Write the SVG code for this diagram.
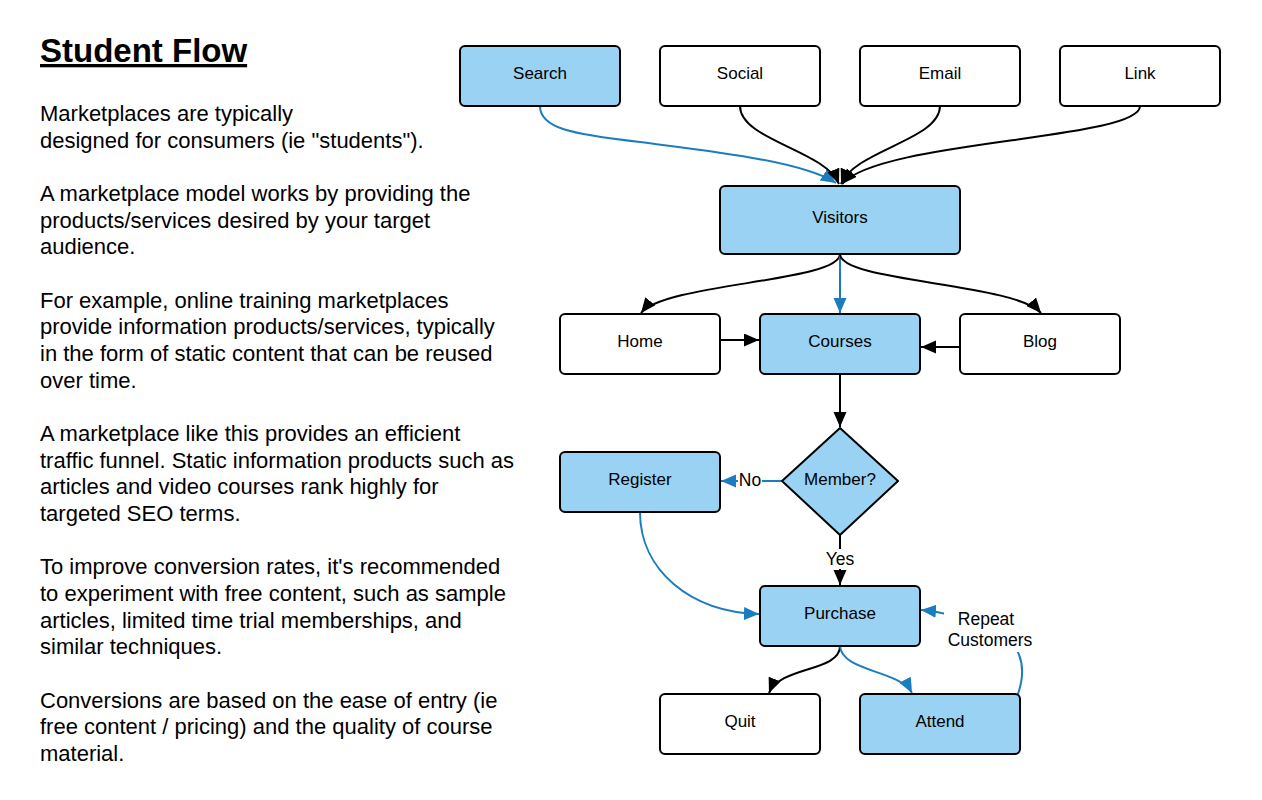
<svg xmlns="http://www.w3.org/2000/svg" width="1262" height="800" viewBox="0 0 1262 800">
<style>
.box{stroke:#000;stroke-width:2;}
.hi{fill:#9ad2f3;}
.lo{fill:#fff;}
.lbl{font-family:"Liberation Sans",Arial,sans-serif;font-size:17px;fill:#000;text-anchor:middle;}
.body{font-family:"Liberation Sans",Arial,sans-serif;font-size:22px;fill:#000;}
.k{fill:none;stroke:#000;stroke-width:2;marker-end:url(#ak);}
.b{fill:none;stroke:#1a7dc0;stroke-width:2;marker-end:url(#ab);}
.el{font-family:"Liberation Sans",Arial,sans-serif;font-size:17.5px;fill:#000;text-anchor:middle;}
</style>
<defs>
<marker id="ak" markerUnits="userSpaceOnUse" markerWidth="18" markerHeight="14" refX="15" refY="6.5" orient="auto"><path d="M0,0 L15,6.5 L0,13 z" fill="#000"/></marker>
<marker id="ab" markerUnits="userSpaceOnUse" markerWidth="18" markerHeight="14" refX="15" refY="6.5" orient="auto"><path d="M0,0 L15,6.5 L0,13 z" fill="#1a7dc0"/></marker>
</defs>
<rect width="1262" height="800" fill="#fff"/>
<g id="text">
<text x="40" y="62" font-family="Liberation Sans,Arial,sans-serif" font-size="33" font-weight="bold" text-decoration="underline">Student Flow</text>
<text class="body" x="40">
<tspan x="40" y="121">Marketplaces are typically</tspan>
<tspan x="40" y="147.7">designed for consumers (ie "students").</tspan>
<tspan x="40" y="201">A marketplace model works by providing the</tspan>
<tspan x="40" y="227.7">products/services desired by your target</tspan>
<tspan x="40" y="254.3">audience.</tspan>
<tspan x="40" y="307.7">For example, online training marketplaces</tspan>
<tspan x="40" y="334.3">provide information products/services, typically</tspan>
<tspan x="40" y="361">in the form of static content that can be reused</tspan>
<tspan x="40" y="387.7">over time.</tspan>
<tspan x="40" y="441">A marketplace like this provides an efficient</tspan>
<tspan x="40" y="467.7">traffic funnel. Static information products such as</tspan>
<tspan x="40" y="494.3">articles and video courses rank highly for</tspan>
<tspan x="40" y="521">targeted SEO terms.</tspan>
<tspan x="40" y="574.3">To improve conversion rates, it's recommended</tspan>
<tspan x="40" y="601">to experiment with free content, such as sample</tspan>
<tspan x="40" y="627.7">articles, limited time trial memberships, and</tspan>
<tspan x="40" y="654.3">similar techniques.</tspan>
<tspan x="40" y="707.7">Conversions are based on the ease of entry (ie</tspan>
<tspan x="40" y="734.3">free content / pricing) and the quality of course</tspan>
<tspan x="40" y="761">material.</tspan>
</text>
</g>
<g id="connectors">
<path class="b" d="M540,106 C540,128 570,134 640,142 C700,150 800,160 836,183"/>
<path class="k" d="M740,106 C740,140 825,150 839,184"/>
<path class="k" d="M940,106 C940,140 855,150 841,184"/>
<path class="k" d="M1140,106 C1140,140 880,140 842,184"/>
<path class="k" d="M840,254 C840,282 665,283 641,313"/>
<path class="b" d="M840,254 L840,313"/>
<path class="k" d="M840,254 C840,282 1015,283 1041,313"/>
<path class="k" d="M720,340 L759,340"/>
<path class="k" d="M960,347 L921,347"/>
<path class="k" d="M840,374 L840,427"/>
<path class="b" d="M782,481 L721,481"/>
<path class="k" d="M840,535 L840,585"/>
<path class="b" d="M640,512 C640,570 690,612 759,614"/>
<path class="k" d="M840,646 C840,672 780,666 769,693"/>
<path class="b" d="M840,646 C842,672 900,670 912,693"/>
<path class="b" d="M1018,694 C1028,665 1020,640 990,628 C965,618 945,612 921,610"/>
<rect x="738" y="470" width="24" height="20" fill="#fff"/>
<text class="el" x="750" y="486">No</text>
<rect x="823" y="549" width="34" height="20" fill="#fff"/>
<text class="el" x="840" y="565">Yes</text>
<rect x="944" y="604" width="94" height="48" fill="#fff"/>
<text class="el" x="986" y="625">Repeat</text>
<text class="el" x="990" y="646">Customers</text>
</g>
<g id="search"><rect class="box hi" x="460" y="46" width="160" height="60" rx="5"/><text class="lbl" x="540" y="79">Search</text></g>
<g id="social"><rect class="box lo" x="660" y="46" width="160" height="60" rx="5"/><text class="lbl" x="740" y="79">Social</text></g>
<g id="email"><rect class="box lo" x="860" y="46" width="160" height="60" rx="5"/><text class="lbl" x="940" y="79">Email</text></g>
<g id="link"><rect class="box lo" x="1060" y="46" width="160" height="60" rx="5"/><text class="lbl" x="1140" y="79">Link</text></g>
<g id="visitors"><rect class="box hi" x="720" y="186" width="240" height="68" rx="5"/><text class="lbl" x="840" y="223">Visitors</text></g>
<g id="home"><rect class="box lo" x="560" y="314" width="160" height="60" rx="5"/><text class="lbl" x="640" y="347">Home</text></g>
<g id="courses"><rect class="box hi" x="760" y="314" width="160" height="60" rx="5"/><text class="lbl" x="840" y="347">Courses</text></g>
<g id="blog"><rect class="box lo" x="960" y="314" width="160" height="60" rx="5"/><text class="lbl" x="1040" y="347">Blog</text></g>
<g id="member"><path class="box hi" stroke-linejoin="round" d="M840,428 L898,481 L840,535 L782,481 Z"/><text class="lbl" x="840" y="485">Member?</text></g>
<g id="register"><rect class="box hi" x="560" y="452" width="160" height="60" rx="5"/><text class="lbl" x="640" y="485">Register</text></g>
<g id="purchase"><rect class="box hi" x="760" y="586" width="160" height="60" rx="5"/><text class="lbl" x="840" y="619">Purchase</text></g>
<g id="quit"><rect class="box lo" x="660" y="694" width="160" height="60" rx="5"/><text class="lbl" x="740" y="727">Quit</text></g>
<g id="attend"><rect class="box hi" x="860" y="694" width="160" height="60" rx="5"/><text class="lbl" x="940" y="727">Attend</text></g>
</svg>
